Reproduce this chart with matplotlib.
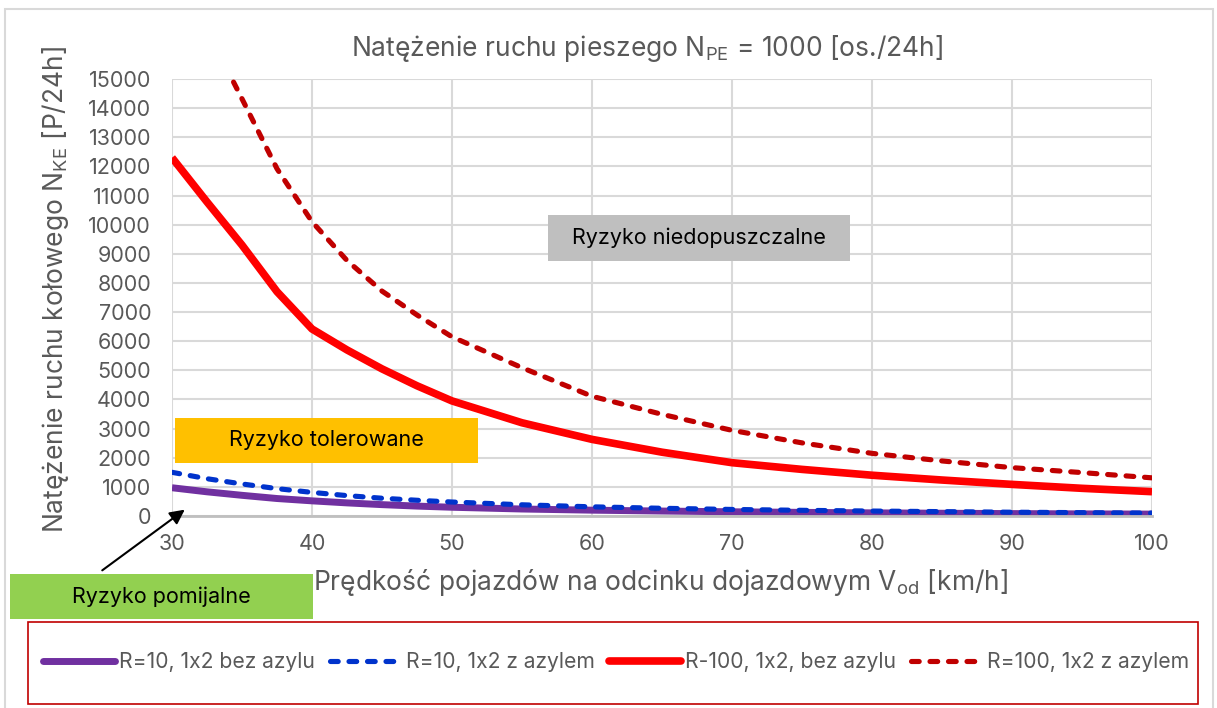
import matplotlib
matplotlib.use('Agg')
import matplotlib.pyplot as plt
from matplotlib.patches import Rectangle, FancyArrowPatch
from matplotlib.lines import Line2D

plt.rcParams['font.family'] = ['Inter', 'DejaVu Sans']
plt.rcParams['mathtext.fontset'] = 'custom'
plt.rcParams['mathtext.rm'] = 'Inter'
plt.rcParams['mathtext.default'] = 'regular'

# predkosc V_od [km/h]
speed = [30, 32.5, 35, 37.5, 40, 42.5, 45, 47.5, 50, 55, 60, 65, 70, 75, 80, 85, 90, 95, 100]
# natezenie N_KE [P/24h]
r10_bez = [970, 830, 710, 600, 520, 450, 390, 340, 300, 240, 200, 170, 145, 125, 108, 95, 83, 73, 65]
r10_z = [1500, 1280, 1100, 940, 810, 700, 610, 540, 480, 385, 315, 265, 225, 195, 170, 150, 130, 115, 100]
r100_bez = [12300, 10780, 9300, 7700, 6420, 5700, 5050, 4470, 3950, 3200, 2630, 2190, 1830, 1600,
            1400, 1235, 1085, 950, 835]
r100_z = [19300, 16700, 14320, 11920, 10100, 8770, 7720, 6900, 6150, 5090, 4110, 3490, 2940, 2510,
          2150, 1890, 1660, 1490, 1310]

labels = ['R=10, 1x2 bez azylu', 'R=10, 1x2 z azylem', 'R-100, 1x2, bez azylu', 'R=100, 1x2 z azylem']
yticks = list(range(0, 15001, 1000))
xticks = [30, 40, 50, 60, 70, 80, 90, 100]

W, H = 1217, 708
fig = plt.figure(figsize=(W / 100, H / 100), dpi=100)

def fx(p):
    return p / W

def fy(p):
    return 1 - p / H

ax = fig.add_axes([fx(172), fy(516), fx(1152 - 172), (516 - 79) / H])

gray = '#595959'
dash = (1.5, 2.1)
ax.plot(speed, r10_bez, color='#7030A0', lw=5, solid_capstyle='butt', solid_joinstyle='round')
ax.plot(speed, r10_z, color='#0033CC', lw=3.7, dashes=dash, dash_capstyle='round')
ax.plot(speed, r100_bez, color='#FF0000', lw=5.5, solid_capstyle='butt', solid_joinstyle='round')
ax.plot(speed, r100_z, color='#C00000', lw=3.7, dashes=dash, dash_capstyle='round')

ax.set_xlim(30, 100)
ax.set_ylim(0, 15000)
ax.set_xticks(xticks)
ax.set_yticks(yticks)
ax.grid(True, color='#D9D9D9', lw=1.5)
ax.set_axisbelow(True)
for s in ['top', 'right', 'left']:
    ax.spines[s].set_visible(False)
ax.spines['bottom'].set_color('#BFBFBF')
ax.spines['bottom'].set_linewidth(2)
ax.tick_params(axis='both', length=0, labelsize=15.5, labelcolor=gray)
ax.tick_params(axis='y', pad=15)
ax.tick_params(axis='x', pad=13)

# tytul i opisy osi
fig.text(fx(647), fy(48), 'Natężenie ruchu pieszego N$_{PE}$ = 1000 [os./24h]',
         ha='center', va='center', fontsize=19, color=gray)
fig.text(fx(56), fy(290), 'Natężenie ruchu kołowego N$_{KE}$ [P/24h]',
         ha='center', va='center', rotation=90, fontsize=19, color=gray)
fig.text(fx(661), fy(582), 'Prędkość pojazdów na odcinku dojazdowym V$_{od}$ [km/h]',
         ha='center', va='center', fontsize=19, color=gray)

# ramka calego wykresu
fig.patches.append(Rectangle((fx(5), -0.02), fx(1208), fy(9) + 0.02, transform=fig.transFigure,
                             fill=False, edgecolor='#D9D9D9', lw=1.5))

# pola ryzyka
boxes = [
    ('Ryzyko niedopuszczalne', 548, 215, 850, 261, '#BFBFBF'),
    ('Ryzyko tolerowane', 175, 418, 478, 463, '#FFC000'),
    ('Ryzyko pomijalne', 10, 574, 313, 619, '#92D050'),
]
for txt, x0, y0, x1, y1, c in boxes:
    fig.patches.append(Rectangle((fx(x0), fy(y1)), fx(x1 - x0), (y1 - y0) / H,
                                 transform=fig.transFigure, facecolor=c, edgecolor='none', zorder=5))
    fig.text(fx((x0 + x1) / 2), fy((y0 + y1) / 2), txt, ha='center', va='center',
             fontsize=15.5, color='black', zorder=6)

fig.add_artist(FancyArrowPatch((fx(100), fy(572)), (fx(187), fy(508)),
                               transform=fig.transFigure, arrowstyle='-|>',
                               mutation_scale=22, color='black', lw=1.5, zorder=7))

# legenda
fig.patches.append(Rectangle((fx(28), fy(704)), fx(1170), 82 / H, transform=fig.transFigure,
                             fill=False, edgecolor='#C00000', lw=1.2))
handles = [
    Line2D([], [], color='#7030A0', lw=5, solid_capstyle='round'),
    Line2D([], [], color='#0033CC', lw=3.7, dashes=dash, dash_capstyle='round'),
    Line2D([], [], color='#FF0000', lw=5.5, solid_capstyle='round'),
    Line2D([], [], color='#C00000', lw=3.7, dashes=dash, dash_capstyle='round'),
]
leg = fig.legend(handles, labels, loc='center', bbox_to_anchor=(fx(616), fy(662)), ncol=4,
                 frameon=False, fontsize=15.2, handlelength=3.4, handletextpad=0.2,
                 columnspacing=0.7, labelcolor=gray)

fig.savefig('out.png', dpi=100, facecolor='white')
